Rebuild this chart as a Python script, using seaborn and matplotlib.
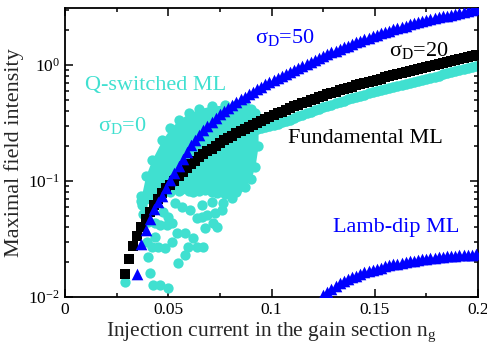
import numpy as np
import seaborn as sns
import matplotlib
matplotlib.use("Agg")
import matplotlib.pyplot as plt
from matplotlib.ticker import MultipleLocator, FixedLocator, FixedFormatter

# injection current grid (shared by all branches)
ng = [0.029, 0.031, 0.033, 0.035, 0.037, 0.039, 0.041, 0.043, 0.045, 0.047,
      0.049, 0.051, 0.053, 0.055, 0.057, 0.059, 0.061, 0.063, 0.065, 0.067,
      0.069, 0.071, 0.073, 0.075, 0.077, 0.079, 0.081, 0.083, 0.085, 0.087,
      0.089, 0.091, 0.093, 0.095, 0.097, 0.099, 0.101, 0.103, 0.105, 0.107,
      0.109, 0.111, 0.113, 0.115, 0.117, 0.119, 0.121, 0.123, 0.125, 0.127,
      0.129, 0.131, 0.133, 0.135, 0.137, 0.139, 0.141, 0.143, 0.145, 0.147,
      0.149, 0.151, 0.153, 0.155, 0.157, 0.159, 0.161, 0.163, 0.165, 0.167,
      0.169, 0.171, 0.173, 0.175, 0.177, 0.179, 0.181, 0.183, 0.185, 0.187,
      0.189, 0.191, 0.193, 0.195, 0.197, 0.199]

# sigma_D = 20, fundamental ML (starts at ng[0])
sigma20_max = [0.0158, 0.0214, 0.0275, 0.0339, 0.0403, 0.0473, 0.0545, 0.062, 0.0705, 0.079,
               0.0865, 0.093, 0.1, 0.11, 0.12, 0.13, 0.14, 0.15, 0.16, 0.17,
               0.18, 0.19, 0.201, 0.212, 0.224, 0.235, 0.247, 0.259, 0.27, 0.282,
               0.294, 0.307, 0.319, 0.332, 0.345, 0.358, 0.372, 0.385, 0.398, 0.412,
               0.426, 0.44, 0.454, 0.469, 0.483, 0.498, 0.513, 0.528, 0.543, 0.558,
               0.574, 0.59, 0.605, 0.621, 0.637, 0.653, 0.668, 0.684, 0.7, 0.716,
               0.733, 0.75, 0.766, 0.782, 0.798, 0.815, 0.832, 0.849, 0.867, 0.885,
               0.904, 0.923, 0.942, 0.962, 0.982, 1.002, 1.023, 1.045, 1.067, 1.089,
               1.112, 1.135, 1.159, 1.183, 1.208, 1.233]

# sigma_D = 50, fundamental ML (starts at ng[3])
sigma50_max = [0.0158, 0.0288, 0.038, 0.0468, 0.0569, 0.066, 0.075, 0.087, 0.102, 0.117,
               0.135, 0.155, 0.178, 0.204, 0.226, 0.251, 0.275, 0.299, 0.324, 0.349,
               0.376, 0.401, 0.427, 0.452, 0.479, 0.507, 0.535, 0.562, 0.592, 0.622,
               0.653, 0.684, 0.714, 0.745, 0.776, 0.809, 0.843, 0.879, 0.914, 0.951,
               0.989, 1.028, 1.069, 1.109, 1.151, 1.194, 1.239, 1.285, 1.330, 1.377,
               1.426, 1.472, 1.521, 1.570, 1.618, 1.667, 1.718, 1.770, 1.824, 1.875,
               1.928, 1.982, 2.032, 2.084, 2.138, 2.193, 2.244, 2.291, 2.339, 2.388,
               2.438, 2.483, 2.529, 2.576, 2.624, 2.673, 2.723, 2.773, 2.825, 2.877,
               2.931, 2.985, 3.041]

# sigma_D = 50, Lamb-dip ML (starts at ng[48])
lambdip_max = [0.01035, 0.0111, 0.0118, 0.01247, 0.0131, 0.01368, 0.01426, 0.0148, 0.01531, 0.01581,
               0.0163, 0.01675, 0.01718, 0.01758, 0.01799, 0.01837, 0.01875, 0.0191, 0.01945, 0.01977,
               0.0201, 0.02037, 0.02065, 0.02089, 0.02113, 0.02138, 0.02163, 0.02183, 0.02203, 0.02223,
               0.02239, 0.02254, 0.0227, 0.02286, 0.02301, 0.02312, 0.02323, 0.02333]

# sigma_D = 0, fundamental ML branch (starts at ng[32])
sigma0_max = [0.284, 0.289, 0.294, 0.298, 0.305, 0.313, 0.32, 0.327, 0.338, 0.349,
              0.361, 0.372, 0.384, 0.395, 0.407, 0.42, 0.432, 0.444, 0.456, 0.469,
              0.481, 0.493, 0.506, 0.519, 0.531, 0.543, 0.556, 0.569, 0.582, 0.596,
              0.608, 0.621, 0.634, 0.647, 0.661, 0.675, 0.689, 0.703, 0.718, 0.733,
              0.748, 0.764, 0.78, 0.796, 0.813, 0.83, 0.847, 0.865, 0.883, 0.902,
              0.92, 0.94, 0.959, 0.979]

# sigma_D = 0, Q-switched ML: dense part of the maxima cloud (envelope)
qs_env_ng = [0.037, 0.039, 0.042, 0.047, 0.051, 0.055, 0.060, 0.065, 0.071, 0.0775,
             0.083, 0.087, 0.090, 0.092, 0.0935]
qs_env_hi = [0.075, 0.11, 0.152, 0.226, 0.285, 0.336, 0.385, 0.42, 0.445, 0.452,
             0.45, 0.44, 0.415, 0.384, 0.30]
qs_env_lo = [0.068, 0.07, 0.072, 0.078, 0.08, 0.082, 0.082, 0.082, 0.08, 0.078,
             0.08, 0.089, 0.105, 0.133, 0.2]

# sigma_D = 0, Q-switched ML: sparse maxima below the dense part
qs_ng = [0.0371, 0.0403, 0.0436, 0.0460, 0.0492, 0.0517, 0.0436, 0.0420, 0.0452, 0.0484,
         0.0403, 0.0541, 0.0581, 0.0517, 0.0597, 0.0638, 0.0670, 0.0549, 0.0581, 0.0621,
         0.0678, 0.0718, 0.0638, 0.0662, 0.0686, 0.0726, 0.0759, 0.0807, 0.0767, 0.0533,
         0.0565, 0.0605, 0.0662, 0.0710, 0.0500, 0.0476, 0.0734, 0.0412, 0.0428, 0.0460,
         0.0500, 0.0565, 0.0621, 0.0678, 0.0734, 0.0791, 0.0839, 0.0291, 0.0380, 0.0395]
qs_max = [0.0621, 0.0446, 0.0432, 0.0418, 0.0418, 0.0432, 0.0331, 0.0272, 0.0272, 0.0263,
          0.0223, 0.0354, 0.0354, 0.0300, 0.0272, 0.0272, 0.0272, 0.0195, 0.0230, 0.0321,
          0.0391, 0.0432, 0.0477, 0.0493, 0.0509, 0.0526, 0.0562, 0.0709, 0.0642, 0.0642,
          0.0600, 0.0562, 0.0621, 0.0663, 0.0493, 0.0544, 0.0404, 0.0160, 0.0127, 0.0127,
          0.0119, 0.0860, 0.0800, 0.0840, 0.0790, 0.0830, 0.0880, 0.0136, 0.0520, 0.0300]

turq = "#40E0D0"

sns.set_theme(style="ticks", rc={"axes.linewidth": 1.3})
plt.rcParams["font.family"] = ["Liberation Serif", "DejaVu Serif"]
plt.rcParams["mathtext.fontset"] = "custom"
plt.rcParams["mathtext.rm"] = "Liberation Serif"
plt.rcParams["mathtext.it"] = "Liberation Serif:italic"

fig, ax = plt.subplots(figsize=(4.87, 3.52), dpi=100)
fig.subplots_adjust(left=0.1335, right=0.9815, top=0.977, bottom=0.156)

# sigma_D = 0 (turquoise)
ax.fill_between(qs_env_ng, qs_env_lo, qs_env_hi, color=turq, linewidth=0, zorder=1)
sns.scatterplot(x=qs_env_ng + qs_env_ng, y=qs_env_hi + qs_env_lo, ax=ax, color=turq,
                marker="o", s=55, linewidth=0, zorder=1)
sns.scatterplot(x=qs_ng, y=qs_max, ax=ax, color=turq, marker="o", s=55, linewidth=0, zorder=1)
sns.scatterplot(x=ng[32:], y=sigma0_max, ax=ax, color=turq, marker="o", s=58,
                linewidth=0, zorder=1)

# sigma_D = 20 (black squares)
sns.scatterplot(x=ng, y=sigma20_max, ax=ax, color="black", marker="s", s=55,
                linewidth=0, zorder=2)

# sigma_D = 50 (blue triangles)
sns.scatterplot(x=ng[3:], y=sigma50_max, ax=ax, color="blue", marker="^", s=70,
                linewidth=0, zorder=3)
sns.scatterplot(x=ng[48:], y=lambdip_max, ax=ax, color="blue", marker="^", s=70,
                linewidth=0, zorder=3)

ax.set_yscale("log")
ax.set_xlim(0, 0.2)
ax.set_ylim(0.01, 3.1)

ax.xaxis.set_major_locator(FixedLocator([0, 0.05, 0.1, 0.15, 0.2]))
ax.xaxis.set_major_formatter(FixedFormatter(["0", "0.05", "0.1", "0.15", "0.2"]))
ax.xaxis.set_minor_locator(MultipleLocator(0.025))
ax.tick_params(which="both", direction="in", top=True, right=True, colors="black",
               labelsize=12.5, width=1.1)
ax.tick_params(which="major", length=6)
ax.tick_params(which="minor", length=3)

ax.set_xlabel("Injection current in the gain section n$_\\mathrm{g}$", fontsize=15.5, labelpad=2)
ax.set_ylabel("Maximal field intensity", fontsize=16, labelpad=3)

ax.text(0.0097, 0.61, "Q-switched ML", color=turq, fontsize=16)
ax.text(0.016, 0.27, r"$\mathrm{\sigma_D}$=0", color=turq, fontsize=16)
ax.text(0.092, 1.55, r"$\mathrm{\sigma_D}$=50", color="blue", fontsize=16)
ax.text(0.157, 1.2, r"$\mathrm{\sigma_D}$=20", color="black", fontsize=16)
ax.text(0.108, 0.213, "Fundamental ML", color="black", fontsize=16)
ax.text(0.13, 0.0363, "Lamb-dip ML", color="blue", fontsize=16)

for sp in ax.spines.values():
    sp.set_color("black")

fig.savefig("out.png", dpi=100)
